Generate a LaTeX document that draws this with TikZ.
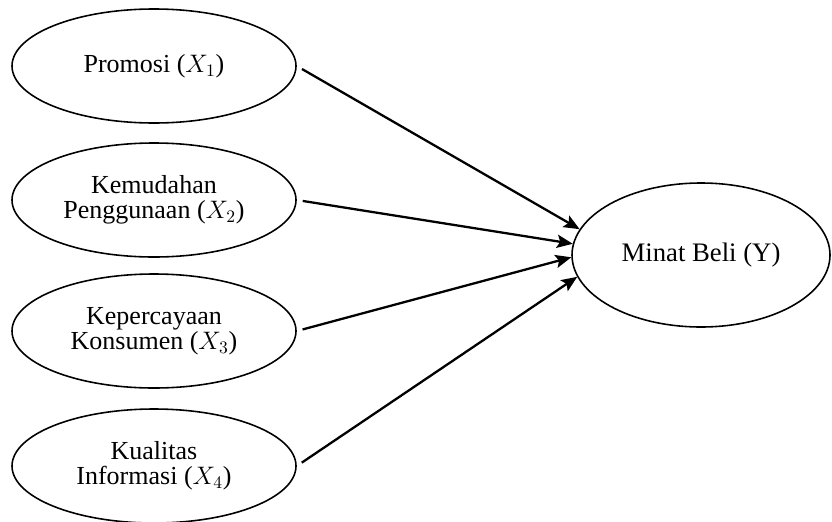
\documentclass[tikz,border=0pt]{standalone}
\usepackage{fontspec}
\setmainfont{Liberation Serif}
\usepackage{tikz}
\usetikzlibrary{arrows.meta,positioning,shapes.geometric}

\begin{document}
\begin{tikzpicture}[x=1cm,y=1cm,
  var/.style={draw, ellipse, line width=0.9pt, inner sep=0pt,
              minimum width=5.68cm, minimum height=2.28cm, align=center,
              font=\fontsize{14.8}{14.4}\selectfont},
  dep/.style={draw, ellipse, line width=0.9pt, inner sep=0pt,
              minimum width=5.16cm, minimum height=2.88cm, align=center,
              font=\fontsize{15.2}{16}\selectfont},
  arr/.style={-{Stealth[length=9pt,width=7.5pt,inset=1.8pt]}, line width=1.3pt, shorten <=3.4pt}
]
\useasboundingbox (0,0) rectangle (16.64,-10.42);
\node[var] (promosi)   at (3.08,-1.32) {\raisebox{3pt}{Promosi ($X_1$)}};
\node[var] (kemudahan) at (3.08,-4.00) {Kemudahan\\Penggunaan ($X_2$)};
\node[var] (percaya)   at (3.08,-6.62) {Kepercayaan\\Konsumen ($X_3$)};
\node[var] (kualitas)  at (3.08,-9.32) {Kualitas\\Informasi ($X_4$)};
\node[dep] (minat)     at (14.02,-5.10) {Minat Beli (Y)};

\draw[arr] (promosi.east) -- (minat.168);
\draw[arr] (kemudahan.east) -- (minat.175);
\draw[arr] (percaya.east) -- (minat.181);
\draw[arr] (kualitas.east) -- (minat.190);
\end{tikzpicture}
\end{document}
